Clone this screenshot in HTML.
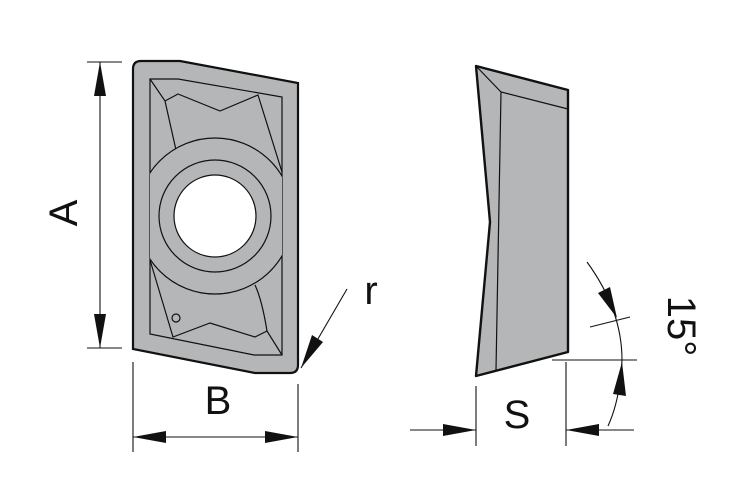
<!DOCTYPE html>
<html><head><meta charset="utf-8"><style>body{margin:0;background:#fff}svg{display:block}</style></head><body>
<svg width="743" height="494" viewBox="0 0 743 494" xmlns="http://www.w3.org/2000/svg" font-family="Liberation Sans, sans-serif">
<defs><clipPath id="c"><rect x="150" y="79" width="132" height="276"/></clipPath></defs>
<path d="M133,69 Q133,61 141,61 L180,61 L298,83 L298,365 Q298,373 290,373 L255,373 L133,349 Z" fill="#b5b6b8" stroke="#111" stroke-width="2.2"/>
<g fill="none" stroke="#111" stroke-width="1.2">
<path d="M150,79 L178,79 L282,97 L282,355 L254,355 L150,334 Z"/>
<path d="M150,79 L165,101 L178,94 L220,111 L258,95 L282,172"/>
<path d="M165,101 L176,150"/>
<path d="M150,260 L173,337 L210,323 L255,337 L267,331 L282,355"/>
<path d="M267,331 Q262,300 255,285"/>
<g clip-path="url(#c)"><circle cx="215" cy="216" r="78" fill="#b5b6b8"/></g>
<circle cx="215" cy="216" r="56"/>
<circle cx="215" cy="216" r="41" fill="#fff"/>
<circle cx="176" cy="318" r="4"/>
</g>
<path d="M476,66 L568,90 L568,352 L476,376 L490,222 Z" fill="#b5b6b8" stroke="#111" stroke-width="2.4" stroke-linejoin="round"/>
<g fill="none" stroke="#111" stroke-width="1.2">
<path d="M476,66 L501,92 L568,109"/>
<path d="M501,92 L496,370"/>
</g>
<g stroke="#111" stroke-width="1.1" fill="none">
<path d="M100,62 V348 M87,62 H122 M87,348 H122"/>
<path d="M133,362 V452 M298,384 V452 M133,437 H298"/>
<path d="M347,289 L301,368"/>
<path d="M476,386 V446 M566,362 V446 M552,360 H637 M410,430 H476 M566,430 H634"/>
<path d="M590,327 L630,317"/>
<path d="M587,262 Q622,310 622,360 Q620,400 608,426"/>
</g>
<g fill="#111">
<polygon points="100,62 94,96 106,96"/>
<polygon points="100,348 94,314 106,314"/>
<polygon points="133,437 166,431 166,443"/>
<polygon points="298,437 265,431 265,443"/>
<polygon points="301,368 312,335 323,342"/>
<polygon points="476,430 443,424 443,436"/>
<polygon points="566,430 599,424 599,436"/>
<polygon points="617,318 598,293 610,287"/>
<polygon points="622,362 613,394 626,396"/>
</g>
<g fill="#111" font-size="40">
<text x="0" y="0" transform="translate(77,213) rotate(-90)" text-anchor="middle">A</text>
<text x="218" y="414" text-anchor="middle">B</text>
<text x="371" y="304" text-anchor="middle">r</text>
<text x="517" y="428" text-anchor="middle">S</text>
<text x="0" y="0" transform="translate(668,326) rotate(90)" text-anchor="middle">15°</text>
</g>
</svg>
</body></html>
